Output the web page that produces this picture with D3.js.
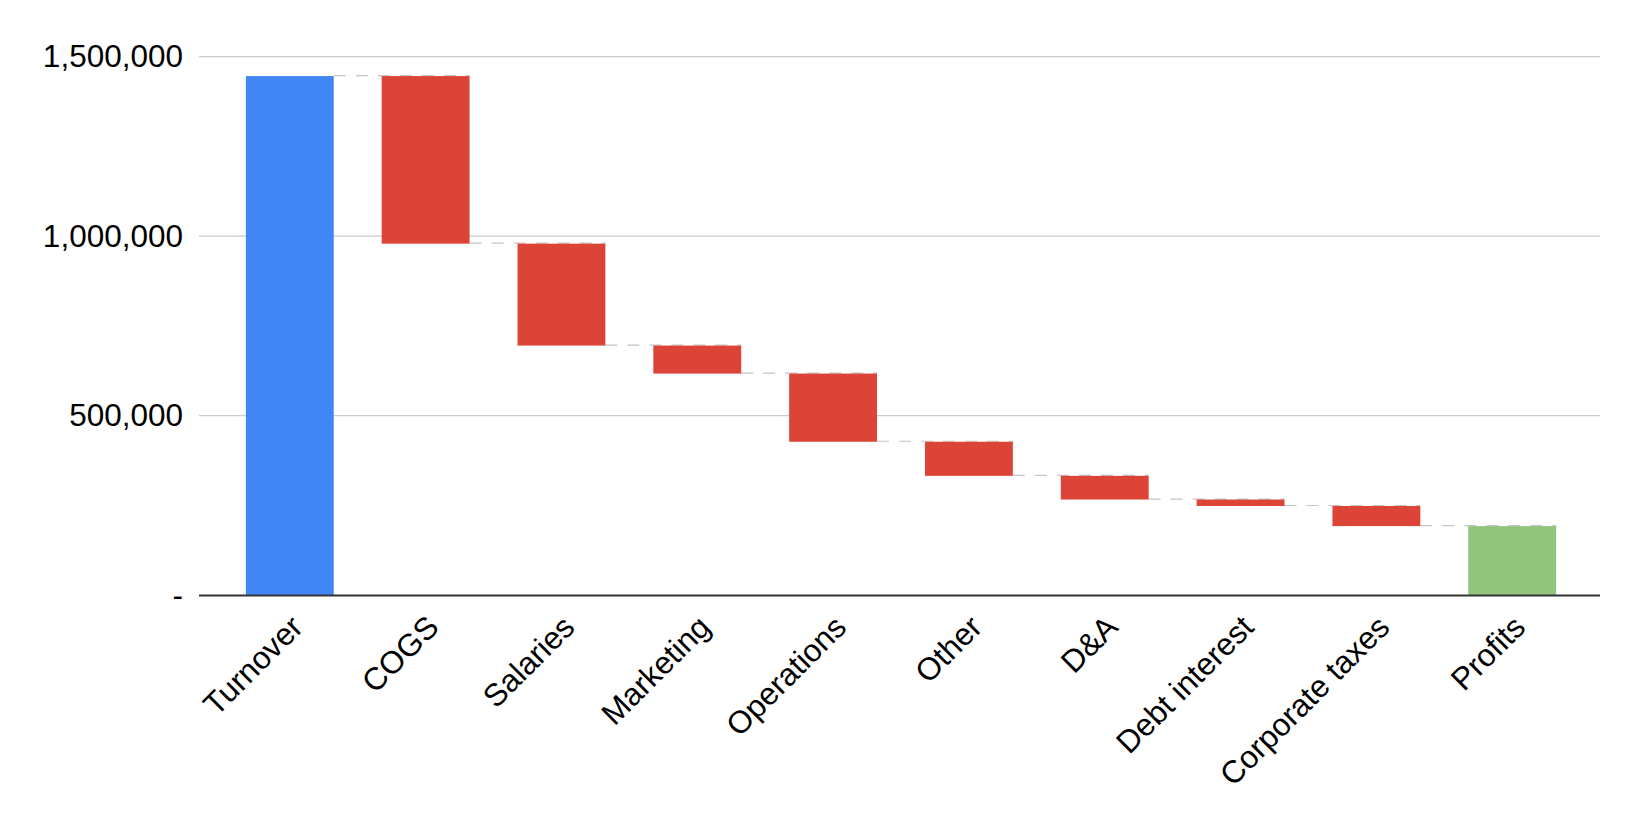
<!DOCTYPE html>
<html>
<head>
<meta charset="utf-8">
<script src="https://cdn.jsdelivr.net/npm/d3@7"></script>
<style>
  body { margin: 0; background: #fff; }
  svg text { font-family: "Liberation Sans", Arial, sans-serif; fill: #000; }
</style>
</head>
<body>
<svg id="chart"></svg>
<script>
// waterfall data
const categories = ['Turnover', 'COGS', 'Salaries', 'Marketing', 'Operations',
    'Other', 'D&A', 'Debt interest', 'Corporate taxes', 'Profits'];
const values = [1446000, -467000, -284000, -78000, -190000, -95000, -66000, -18000, -56000, 192000];
const kinds = ['total', 'step', 'step', 'step', 'step', 'step', 'step', 'step', 'step', 'total'];

const yTicks = [0, 500000, 1000000, 1500000];
const yTickLabels = ['-', '500,000', '1,000,000', '1,500,000'];

const colors = { start: '#4285f4', down: '#db4437', end: '#93c47d' };

const width = 1642;
const height = 824;

const svg = d3.select('#chart')
    .attr('width', width)
    .attr('height', height);

// running totals -> start / end of each bar
let running = 0;
const bars = categories.map((name, i) => {
    let from, to;
    if (kinds[i] === 'total') {
        from = 0;
        to = values[i];
        running = values[i];
    } else {
        from = running;
        to = running + values[i];
        running = to;
    }
    return { name, from, to, i };
});

const x = d3.scaleBand()
    .domain(categories)
    .range([199, 1603])
    .paddingInner(0.353)
    .paddingOuter(0.345);

const y = d3.scaleLinear()
    .domain([0, 1500000])
    .range([595, 56.7]);

// gridlines
svg.append('g')
    .selectAll('line')
    .data(yTicks.slice(1))
    .enter()
    .append('line')
    .attr('x1', 199)
    .attr('x2', 1600)
    .attr('y1', d => y(d))
    .attr('y2', d => y(d))
    .attr('stroke', '#cccccc')
    .attr('stroke-width', 1.3);

// y axis labels
const yAxis = d3.axisLeft(y)
    .tickValues(yTicks)
    .tickFormat((d, i) => yTickLabels[i])
    .tickSize(0)
    .tickPadding(16);

svg.append('g')
    .attr('transform', 'translate(199,0)')
    .call(yAxis)
    .call(g => g.select('.domain').remove())
    .selectAll('text')
    .attr('font-size', 31.5)
    .attr('fill', '#000')
    .attr('dy', '0.32em')
    .style('font-family', '"Liberation Sans", Arial, sans-serif');

// connectors between bars
svg.append('g')
    .selectAll('line')
    .data(bars.slice(0, -1))
    .enter()
    .append('line')
    .attr('x1', d => x(d.name) + x.bandwidth())
    .attr('x2', d => x(categories[d.i + 1]) + x.bandwidth())
    .attr('y1', d => y(d.to) - 0.5)
    .attr('y2', d => y(d.to) - 0.5)
    .attr('stroke', '#c4c4c4')
    .attr('stroke-width', 1.2)
    .attr('stroke-dasharray', '12 10');

// bars
svg.append('g')
    .selectAll('rect')
    .data(bars)
    .enter()
    .append('rect')
    .attr('x', d => x(d.name))
    .attr('width', x.bandwidth())
    .attr('y', d => y(Math.max(d.from, d.to)))
    .attr('height', d => Math.abs(y(d.from) - y(d.to)))
    .attr('fill', d => {
        if (d.i === 0) return colors.start;
        if (d.i === categories.length - 1) return colors.end;
        return colors.down;
    });

// baseline
svg.append('line')
    .attr('x1', 199)
    .attr('x2', 1600)
    .attr('y1', y(0) + 0.5)
    .attr('y2', y(0) + 0.5)
    .attr('stroke', '#333333')
    .attr('stroke-width', 1.8);

// x labels, slanted
svg.append('g')
    .selectAll('text')
    .data(categories)
    .enter()
    .append('text')
    .attr('transform', d => `translate(${x(d) + x.bandwidth() / 2 + 15},${y(0) + 34}) rotate(-45)`)
    .attr('text-anchor', 'end')
    .attr('font-size', 31.5)
    .text(d => d);
</script>
</body>
</html>
